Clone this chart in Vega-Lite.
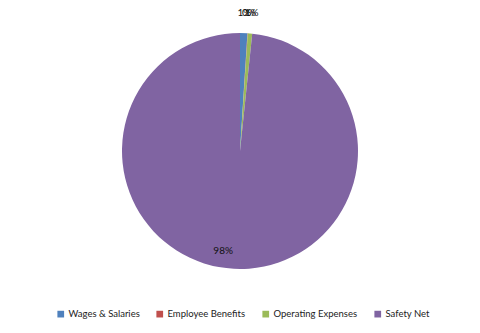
{
  "$schema": "https://vega.github.io/schema/vega-lite/v6.json",
  "width": 480,
  "height": 302,
  "autosize": "none",
  "padding": {"top": 0, "left": 0, "right": 0, "bottom": 31},
  "background": "white",
  "config": {"view": {"stroke": null}, "font": "Lato"},
  "data": {"values": [
    {"k": 1, "cat": "Wages & Salaries", "share": 0.010},
    {"k": 2, "cat": "Employee Benefits", "share": 0.0005},
    {"k": 3, "cat": "Operating Expenses", "share": 0.006},
    {"k": 4, "cat": "Safety Net", "share": 0.9835}
  ]},
  "encoding": {
    "theta": {"field": "share", "type": "quantitative", "stack": true},
    "order": {"field": "k", "type": "quantitative"}
  },
  "layer": [
    {
      "mark": {"type": "arc", "outerRadius": 118},
      "encoding": {
        "color": {
          "field": "cat", "type": "nominal",
          "scale": {
            "domain": ["Wages & Salaries", "Employee Benefits", "Operating Expenses", "Safety Net"],
            "range": ["#4F81BD", "#C0504D", "#9BBB59", "#8064A2"]
          },
          "legend": {
            "title": null, "orient": "none", "direction": "horizontal",
            "legendX": 56, "legendY": 309,
            "symbolType": "square", "symbolSize": 45, "symbolStrokeWidth": 0,
            "labelFontSize": 9.5, "labelColor": "#222", "labelFont": "Lato",
            "columnPadding": 15, "symbolOffset": 0, "labelOffset": 3
          }
        }
      }
    },
    {
      "transform": [{"filter": "datum.k < 4"}],
      "mark": {"type": "text", "radius": 138, "fontSize": 10, "color": "#111"},
      "encoding": {"text": {"field": "share", "type": "quantitative", "format": ".0%"}}
    },
    {
      "transform": [{"filter": "datum.k == 4"}],
      "mark": {"type": "text", "radius": 100, "dx": -22, "fontSize": 10, "color": "#111"},
      "encoding": {"text": {"field": "share", "type": "quantitative", "format": ".0%"}}
    }
  ]
}
